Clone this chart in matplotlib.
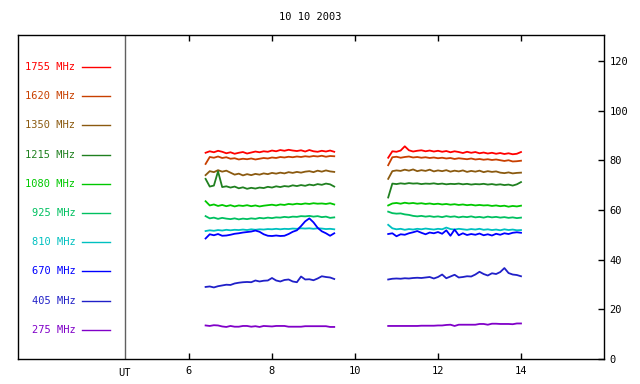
import numpy as np
import matplotlib
matplotlib.use("Agg")
import matplotlib.pyplot as plt

# tempo (UT) dos dois blocos de medidas
t1 = np.round(np.arange(6.4, 9.51, 0.1), 2)
t2 = np.round(np.arange(10.8, 14.01, 0.1), 2)

freqs = ["1755", "1620", "1350", "1215", "1080", "925", "810", "670", "405", "275"]
cores = ["#ff0000", "#c84000", "#8b5a10", "#208020", "#00c800",
         "#00c060", "#00c0c0", "#0000ff", "#2020c8", "#8000c8"]

f1755_a = [83.0, 83.6, 83.2, 83.8, 83.4, 82.8, 83.2, 82.6, 83.0, 83.3, 82.7, 83.1, 83.5, 83.2, 83.6, 83.4,
           83.9, 83.6, 84.1, 83.8, 84.2, 83.9, 83.7, 84.0, 83.5, 84.1, 83.6, 83.4, 83.8, 83.5, 83.9, 83.4]
f1755_b = [81.0, 83.6, 83.4, 83.9, 85.6, 84.0, 83.5, 83.8, 84.0, 83.6, 83.9, 83.5, 83.8, 83.4, 83.7, 83.2,
           83.6, 83.3, 82.9, 83.4, 83.0, 83.3, 82.8, 83.1, 82.7, 83.0, 82.6, 82.9, 82.5, 82.8, 82.4, 82.6, 83.3]
f1620_a = [78.5, 81.3, 81.0, 81.5, 80.9, 81.2, 80.6, 80.8, 80.3, 80.6, 80.4, 80.7, 80.3, 80.6, 80.9, 80.7,
           81.1, 80.9, 81.3, 81.1, 81.4, 81.2, 81.5, 81.3, 81.6, 81.4, 81.7, 81.5, 81.8, 81.4, 81.7, 81.6]
f1620_b = [78.0, 81.2, 81.4, 81.0, 81.3, 81.5, 81.1, 81.3, 81.0, 81.2, 80.9, 81.1, 80.8, 81.0, 80.7, 80.9,
           80.5, 80.8, 80.6, 80.4, 80.7, 80.3, 80.5, 80.2, 80.4, 80.1, 80.3, 80.0, 79.7, 80.0, 79.5, 79.6, 79.8]
f1350_a = [74.0, 75.6, 75.2, 76.0, 75.4, 75.8, 75.0, 74.2, 74.6, 73.9, 74.4, 74.0, 74.5, 74.2, 74.7, 74.4,
           74.9, 74.6, 75.0, 74.7, 75.2, 74.9, 75.3, 75.0, 75.4, 75.6, 75.2, 75.8, 75.4, 75.9, 75.5, 75.3]
f1350_b = [72.5, 75.6, 75.9, 75.7, 76.2, 75.8, 76.3, 75.6, 76.0, 75.7, 76.2, 75.5, 75.9, 75.6, 76.0, 75.4,
           75.8, 75.5, 75.9, 75.3, 75.7, 75.4, 75.8, 75.2, 75.6, 75.3, 75.5, 75.0, 74.8, 75.1, 74.7, 74.9, 75.0]
f1215_a = [72.5, 69.4, 69.8, 75.5, 69.2, 69.5, 69.0, 69.4, 68.7, 69.1, 68.5, 68.9, 68.6, 69.0, 68.8, 69.3,
           69.0, 69.5, 69.2, 69.6, 69.4, 69.9, 69.6, 70.0, 69.7, 70.2, 69.9, 70.4, 70.1, 70.6, 70.3, 69.4]
f1215_b = [65.0, 70.6, 70.4, 70.7, 70.5, 70.8, 70.6, 70.7, 70.4, 70.6, 70.5, 70.7, 70.4, 70.6, 70.3, 70.5,
           70.4, 70.6, 70.3, 70.5, 70.2, 70.4, 70.3, 70.5, 70.2, 70.4, 70.1, 70.3, 70.0, 70.2, 69.8, 70.3, 71.2]
f1080_a = [63.5, 61.8, 62.2, 61.6, 62.0, 61.5, 61.9, 61.4, 61.8, 61.6, 61.9, 61.5, 61.8, 61.4, 61.7, 61.9,
           62.1, 61.8, 62.2, 62.0, 62.4, 62.2, 62.5, 62.3, 62.6, 62.4, 62.7, 62.5, 62.6, 62.4, 62.7, 62.2]
f1080_b = [61.8, 62.6, 62.8, 62.5, 62.9, 62.6, 62.8, 62.5, 62.7, 62.4, 62.6, 62.3, 62.5, 62.2, 62.4, 62.1,
           62.3, 62.0, 62.2, 61.9, 62.1, 61.8, 62.0, 61.8, 61.9, 61.6, 61.8, 61.5, 61.7, 61.3, 61.6, 61.4, 61.7]
f925_a = [57.5, 56.6, 56.9, 56.4, 56.8, 56.5, 56.3, 56.6, 56.2, 56.5, 56.3, 56.6, 56.4, 56.8, 56.6, 56.9,
          56.7, 57.0, 56.9, 57.2, 57.0, 57.3, 57.2, 57.5, 57.4, 57.6, 57.3, 57.5, 57.1, 57.3, 56.8, 57.0]
f925_b = [59.3, 58.7, 58.5, 58.6, 58.2, 58.0, 57.6, 57.4, 57.6, 57.3, 57.5, 57.2, 57.4, 57.1, 57.5, 57.2,
          57.4, 57.0, 57.3, 57.1, 57.4, 57.0, 57.2, 56.9, 57.3, 57.0, 57.2, 56.9, 57.1, 56.8, 57.0, 56.7, 56.9]
f810_a = [51.5, 51.8, 51.6, 51.9, 51.7, 52.0, 51.8, 52.0, 51.9, 52.1, 51.9, 52.2, 52.0, 52.2, 52.1, 52.3,
          52.2, 52.4, 52.2, 52.4, 52.3, 52.5, 52.4, 52.6, 52.5, 52.6, 52.4, 52.6, 52.5, 52.3, 52.4, 52.2]
f810_b = [54.0, 52.6, 52.2, 52.4, 52.0, 52.3, 52.1, 52.4, 52.2, 52.5, 52.3, 52.1, 52.4, 52.2, 52.9, 52.3,
          52.1, 52.4, 52.2, 52.0, 52.3, 52.1, 52.4, 52.0, 52.2, 51.9, 52.1, 51.8, 52.2, 51.9, 52.1, 51.8, 51.9]
f670_a = [48.5, 50.2, 49.8, 50.3, 49.6, 49.7, 50.0, 50.4, 50.6, 50.9, 51.1, 51.3, 51.7, 51.2, 50.2, 49.6,
          49.5, 49.7, 49.5, 49.6, 50.3, 51.2, 51.8, 53.5, 55.4, 56.6, 55.0, 52.8, 51.4, 50.6, 49.6, 50.6]
f670_b = [50.3, 50.6, 49.4, 50.2, 50.0, 50.6, 51.0, 51.5, 50.8, 50.2, 50.9, 50.6, 51.1, 50.4, 51.8, 49.6,
          52.1, 49.8, 50.6, 49.9, 50.3, 50.0, 50.5, 49.8, 50.2, 49.7, 50.4, 50.0, 50.6, 50.3, 50.8, 51.0, 50.8]
f405_a = [29.0, 29.2, 28.8, 29.3, 29.6, 29.9, 29.8, 30.4, 30.7, 30.9, 31.0, 30.9, 31.6, 31.2, 31.5, 31.6,
          32.6, 31.6, 31.2, 31.8, 32.0, 31.2, 30.9, 33.2, 32.0, 32.1, 31.7, 32.4, 33.3, 33.0, 32.8, 32.2]
f405_b = [32.0, 32.3, 32.4, 32.3, 32.5, 32.4, 32.6, 32.7, 32.6, 32.8, 33.0, 32.4, 33.0, 34.0, 32.5, 33.2,
          33.9, 32.8, 33.0, 33.3, 33.2, 34.0, 35.1, 34.2, 33.6, 34.5, 34.2, 35.0, 36.6, 34.6, 34.0, 33.8, 33.3]
f275_a = [13.5, 13.3, 13.6, 13.5, 13.1, 12.9, 13.3, 13.0, 13.0, 13.3, 13.3, 13.0, 13.2, 12.9, 13.3, 13.2,
          13.1, 13.3, 13.3, 13.3, 13.0, 13.0, 13.0, 13.0, 13.2, 13.2, 13.2, 13.2, 13.2, 13.2, 12.9, 12.9]
f275_b = [13.3, 13.3, 13.3, 13.3, 13.3, 13.3, 13.3, 13.3, 13.4, 13.4, 13.4, 13.4, 13.5, 13.5, 13.7, 13.8,
          13.3, 13.8, 13.8, 13.8, 13.8, 13.8, 14.1, 14.1, 13.8, 14.2, 14.2, 14.1, 14.1, 14.1, 14.0, 14.3, 14.3]

series = [(f1755_a, f1755_b), (f1620_a, f1620_b), (f1350_a, f1350_b), (f1215_a, f1215_b),
          (f1080_a, f1080_b), (f925_a, f925_b), (f810_a, f810_b), (f670_a, f670_b),
          (f405_a, f405_b), (f275_a, f275_b)]

fonte = "DejaVu Sans Mono"
fs = 7.5

fig = plt.figure(figsize=(6.4, 3.84), dpi=100)
ax = fig.add_axes([18/640, 25/384, 586/640, 324/384])

for (a, b), cor in zip(series, cores):
    ax.plot(t1, a, color=cor, lw=1.3)
    ax.plot(t2, b, color=cor, lw=1.3)

# legenda desenhada a mao, de cima para baixo
for i, (f, cor) in enumerate(zip(freqs, cores)):
    y = 117.5 - 11.75 * i
    ax.text(3.26, y, f + " MHz", color=cor, ha="right", va="center",
            fontsize=fs, family=fonte)
    ax.plot([3.42, 4.10], [y, y], color=cor, lw=1)

ax.axvline(4.45, color="#606060", lw=1)
ax.text(4.45, -3.5, "UT", ha="center", va="top", fontsize=fs, family=fonte)

ax.set_xlim(1.88, 16.0)
ax.set_ylim(0, 130.4)
ax.set_xticks([6, 8, 10, 12, 14])
ax.set_yticks(range(0, 121, 20))
ax.yaxis.tick_right()
ax.tick_params(axis="x", direction="in", top=True, bottom=True, length=4, width=1,
               labelsize=fs, pad=5)
ax.tick_params(axis="y", direction="in", left=False, right=True, length=4, width=1,
               labelsize=fs, pad=4)
for lab in ax.get_xticklabels() + ax.get_yticklabels():
    lab.set_family(fonte)
for s in ax.spines.values():
    s.set_linewidth(1)

fig.text(310/640, 1 - 17/384, "10 10 2003", ha="center", va="center",
         fontsize=fs, family=fonte)

fig.savefig("out.png", dpi=100)
